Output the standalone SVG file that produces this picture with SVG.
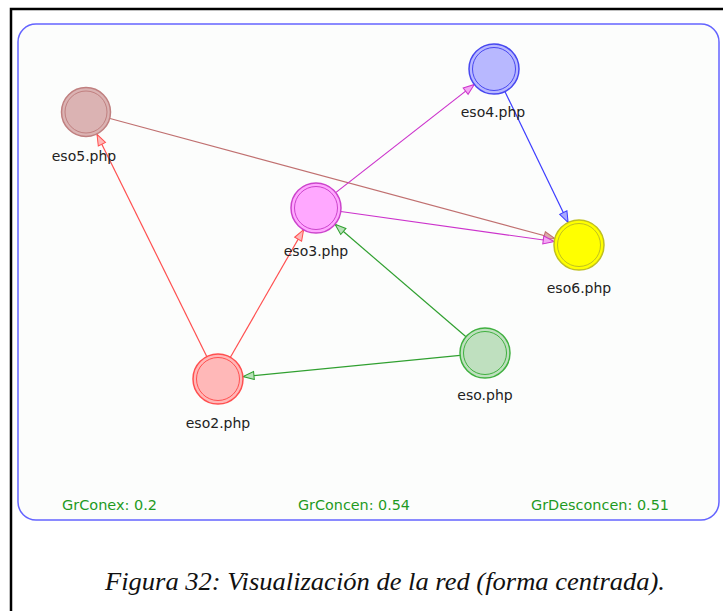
<svg xmlns="http://www.w3.org/2000/svg" width="723" height="611" viewBox="0 0 723 611">
<style>
.lbl{font-family:"DejaVu Sans","Liberation Sans",sans-serif;font-size:14px;fill:#222;text-anchor:middle}
.stat{font-family:"DejaVu Sans Condensed","Liberation Sans Narrow","DejaVu Sans",sans-serif;font-stretch:condensed;font-size:14px;fill:#1f9a1f}
.cap{font-family:"Liberation Serif","DejaVu Serif",serif;font-style:italic;font-size:25px;fill:#111}
.e{fill:none;stroke-width:1.2}
.ring{fill:none;stroke-width:1}
</style>
<defs>
<marker id="aR" markerWidth="14" markerHeight="12" refX="12" refY="5" orient="auto" markerUnits="userSpaceOnUse"><path d="M1,1 L12,5 L1,9 Z" fill="#ffb8b8" stroke="#ff5050" stroke-width="1"/></marker>
<marker id="aG" markerWidth="14" markerHeight="12" refX="12" refY="5" orient="auto" markerUnits="userSpaceOnUse"><path d="M1,1 L12,5 L1,9 Z" fill="#b8e0b8" stroke="#30a030" stroke-width="1"/></marker>
<marker id="aM" markerWidth="14" markerHeight="12" refX="12" refY="5" orient="auto" markerUnits="userSpaceOnUse"><path d="M1,1 L12,5 L1,9 Z" fill="#f4a8f4" stroke="#cc33cc" stroke-width="1"/></marker>
<marker id="aB" markerWidth="14" markerHeight="12" refX="12" refY="5" orient="auto" markerUnits="userSpaceOnUse"><path d="M1,1 L12,5 L1,9 Z" fill="#a8a8ff" stroke="#3c3cff" stroke-width="1"/></marker>
<marker id="aN" markerWidth="14" markerHeight="12" refX="12" refY="5" orient="auto" markerUnits="userSpaceOnUse"><path d="M1,1 L12,5 L1,9 Z" fill="#dcaaaa" stroke="#c07070" stroke-width="1"/></marker>
</defs>
<rect width="723" height="611" fill="#ffffff"/>
<path d="M11,611 L11,9 L723,9" fill="none" stroke="#000" stroke-width="2.5"/>
<rect x="18" y="24" width="701" height="496" rx="18" ry="18" fill="#fcfdfc" stroke="#6464ff" stroke-width="1.5"/>
<g id="connectors">
<line class="e" x1="110" y1="118.5" x2="554.9" y2="238.5" stroke="#c07070" marker-end="url(#aN)"/>
<line class="e" x1="207" y1="357" x2="97" y2="134.4" stroke="#ff5050" marker-end="url(#aR)"/>
<line class="e" x1="230.4" y1="357.3" x2="303.6" y2="229.7" stroke="#ff5050" marker-end="url(#aR)"/>
<line class="e" x1="460.1" y1="355.4" x2="243" y2="376.6" stroke="#30a030" marker-end="url(#aG)"/>
<line class="e" x1="466" y1="336.7" x2="335" y2="224.3" stroke="#30a030" marker-end="url(#aG)"/>
<line class="e" x1="335.7" y1="192.6" x2="474.3" y2="84.4" stroke="#cc33cc" marker-end="url(#aM)"/>
<line class="e" x1="340.8" y1="211.5" x2="554.2" y2="241.5" stroke="#cc33cc" marker-end="url(#aM)"/>
<line class="e" x1="504.9" y1="91.5" x2="568.1" y2="222.5" stroke="#3c3cff" marker-end="url(#aB)"/>
</g>
<g id="eso5">
<circle cx="86" cy="112" r="24.5" fill="#dbb3b3" stroke="#c08080" stroke-width="1.5"/>
<circle class="ring" cx="86" cy="112" r="21" stroke="#c08080"/>
<text class="lbl" x="84" y="161">eso5.php</text>
</g>
<g id="eso3">
<circle cx="316" cy="208" r="25" fill="#ffa8ff" stroke="#cc44cc" stroke-width="1.5"/>
<circle class="ring" cx="316" cy="208" r="21.5" stroke="#cc44cc"/>
<text class="lbl" x="316" y="256">eso3.php</text>
</g>
<g id="eso4">
<circle cx="494" cy="69" r="25" fill="#b8b8ff" stroke="#4848f0" stroke-width="1.5"/>
<circle class="ring" cx="494" cy="69" r="21.5" stroke="#4848f0"/>
<text class="lbl" x="493" y="117">eso4.php</text>
</g>
<g id="eso6">
<circle cx="579" cy="245" r="25" fill="#ffff00" stroke="#c0c020" stroke-width="1.5"/>
<circle class="ring" cx="579" cy="245" r="21.5" stroke="#c0c020"/>
<text class="lbl" x="579" y="293">eso6.php</text>
</g>
<g id="eso">
<circle cx="485" cy="353" r="25" fill="#bfe0bf" stroke="#40b040" stroke-width="1.5"/>
<circle class="ring" cx="485" cy="353" r="21.5" stroke="#40b040"/>
<text class="lbl" x="485" y="400">eso.php</text>
</g>
<g id="eso2">
<circle cx="218" cy="379" r="25" fill="#ffb8b8" stroke="#ff5050" stroke-width="1.5"/>
<circle class="ring" cx="218" cy="379" r="21.5" stroke="#ff5050"/>
<text class="lbl" x="218" y="428">eso2.php</text>
</g>
<text class="stat" x="62" y="510" textLength="95" lengthAdjust="spacingAndGlyphs">GrConex: 0.2</text>
<text class="stat" x="298" y="510" textLength="112" lengthAdjust="spacingAndGlyphs">GrConcen: 0.54</text>
<text class="stat" x="531" y="510" textLength="138" lengthAdjust="spacingAndGlyphs">GrDesconcen: 0.51</text>
<text class="cap" x="105" y="590" textLength="560" lengthAdjust="spacingAndGlyphs">Figura 32: Visualización de la red (forma centrada).</text>
</svg>
